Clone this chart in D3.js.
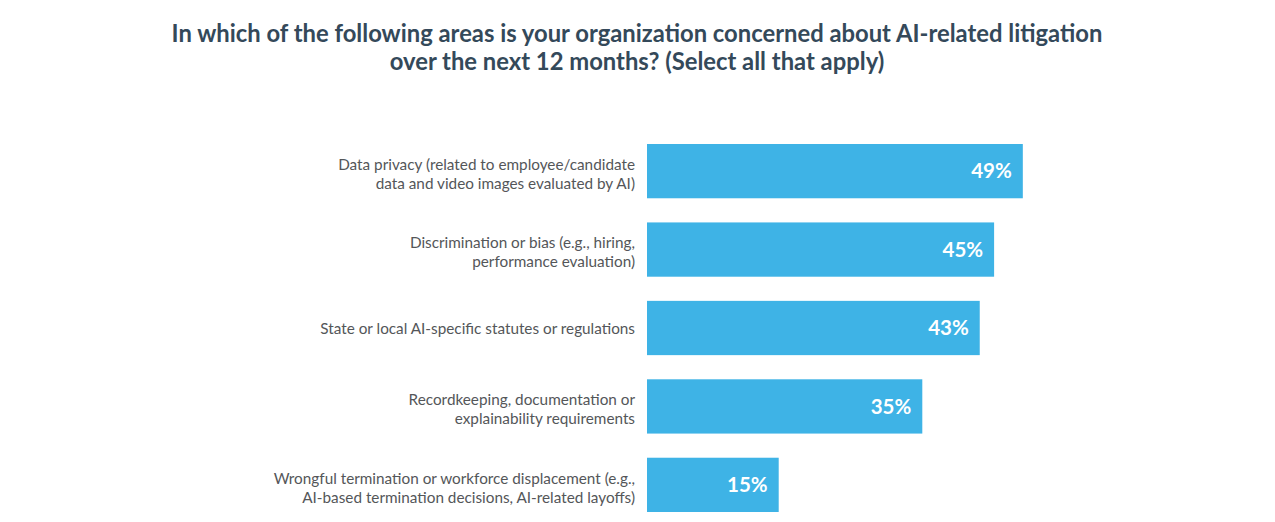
<!DOCTYPE html>
<html>
<head>
<meta charset="utf-8">
<script src="https://cdn.jsdelivr.net/npm/d3@7"></script>
<style>
  body { margin: 0; background: #ffffff; }
  svg { display: block; }
</style>
</head>
<body>
<div id="chart"></div>
<script>
// Chart data
const categories = [
    ["Data privacy (related to employee/candidate", "data and video images evaluated by AI)"],
    ["Discrimination or bias (e.g., hiring,", "performance evaluation)"],
    ["State or local AI-specific statutes or regulations"],
    ["Recordkeeping, documentation or", "explainability requirements"],
    ["Wrongful termination or workforce displacement (e.g.,", "AI-based termination decisions, AI-related layoffs)"]
];
const values = [49, 45, 43, 35, 15];
const titleLines = [
    "In which of the following areas is your organization concerned about AI-related litigation",
    "over the next 12 months? (Select all that apply)"
];

const width = 1275, height = 522;
const font = "Lato, 'Open Sans', sans-serif";

let svg = d3.select('#chart').append('svg')
    .attr('width', width)
    .attr('height', height);

svg.append('rect')
    .attr('width', width)
    .attr('height', height)
    .attr('fill', '#ffffff');

// Title
svg.append('text')
    .attr('x', 637)
    .attr('y', 42)
    .attr('text-anchor', 'middle')
    .attr('font-family', font)
    .attr('font-size', 23.8)
    .attr('font-weight', 700)
    .attr('fill', '#34495a')
    .selectAll('tspan')
    .data(titleLines)
    .enter()
    .append('tspan')
    .attr('x', 637)
    .attr('dy', (d, i) => i === 0 ? 0 : 28)
    .text(d => d);

// Scales
let left = 647;
let xScale = d3.scaleLinear()
    .domain([0, 50])
    .range([24, 383]);

let yScale = d3.scaleBand()
    .domain(d3.range(values.length))
    .range([144, 512])
    .paddingInner(0.308)
    .paddingOuter(0);

let chart_area = svg.append('g')
    .attr('transform', `translate(${left},0)`);

// Bars
chart_area.selectAll('rect.bar')
    .data(values)
    .enter()
    .append('rect')
    .attr('class', 'bar')
    .attr('x', 0)
    .attr('y', (d, i) => yScale(i))
    .attr('width', d => xScale(d))
    .attr('height', yScale.bandwidth())
    .attr('fill', '#3eb3e6');

// Value labels
chart_area.selectAll('text.value')
    .data(values)
    .enter()
    .append('text')
    .attr('class', 'value')
    .attr('x', d => xScale(d) - 11)
    .attr('y', (d, i) => yScale(i) + yScale.bandwidth() / 2)
    .attr('dy', '0.35em')
    .attr('text-anchor', 'end')
    .attr('font-family', font)
    .attr('font-size', 20.5)
    .attr('font-weight', 700)
    .attr('fill', '#ffffff')
    .text(d => d + '%');

// Category labels
let labels = svg.selectAll('text.cat')
    .data(categories)
    .enter()
    .append('text')
    .attr('class', 'cat')
    .attr('text-anchor', 'end')
    .attr('font-family', font)
    .attr('font-size', 15.3)
    .attr('fill', '#545659');

labels.each(function(lines, i) {
    let cy = yScale(i) + yScale.bandwidth() / 2 + (lines.length > 1 ? 3 : 1);
    let lh = 19;
    let y0 = cy - (lines.length - 1) * lh / 2;
    d3.select(this).selectAll('tspan')
        .data(lines)
        .enter()
        .append('tspan')
        .attr('x', 635)
        .attr('y', (d, j) => y0 + j * lh)
        .attr('dy', '0.35em')
        .text(d => d);
});
</script>
</body>
</html>
